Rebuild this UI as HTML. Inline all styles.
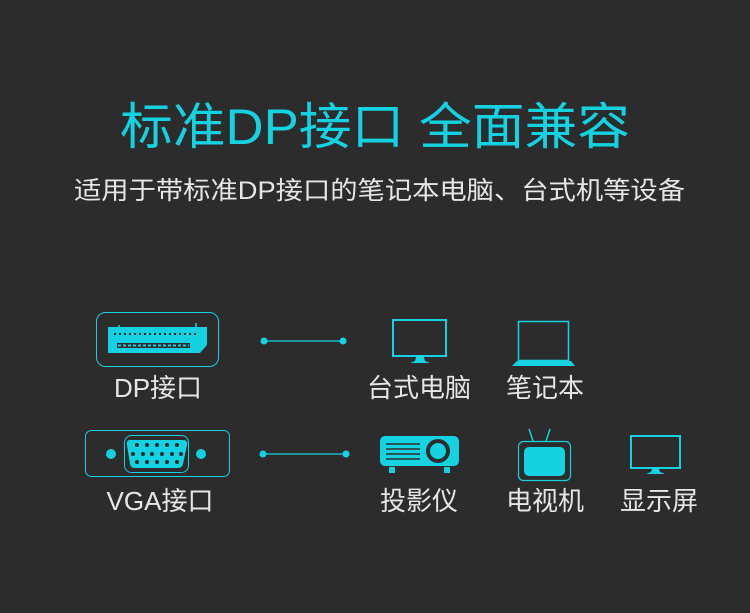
<!DOCTYPE html>
<html><head><meta charset="utf-8"><style>
html,body{margin:0;padding:0;background:#2c2c2c;}
svg{display:block;}
text{font-family:"Liberation Sans","Noto Sans CJK SC",sans-serif;}
</style></head><body>
<svg width="750" height="613" viewBox="0 0 750 613" xmlns="http://www.w3.org/2000/svg">
<rect width="750" height="613" fill="#2c2c2c"/>
<text x="120" y="144" font-size="50" fill="#14d2e2" textLength="510" lengthAdjust="spacingAndGlyphs">标准DP接口 全面兼容</text>
<text x="74" y="199" font-size="25" fill="#e6e6e6" textLength="611" lengthAdjust="spacingAndGlyphs">适用于带标准DP接口的笔记本电脑、台式机等设备</text>

<!-- DP icon -->
<rect x="96.5" y="312.5" width="122" height="54" rx="9" fill="none" stroke="#14d2e2" stroke-width="1"/>
<path d="M108 327 L207 327 L207 345 L200 353 L108 353 Z" fill="#14d2e2"/>
<line x1="119" y1="325" x2="119" y2="327" stroke="#14d2e2" stroke-width="1.5"/>
<line x1="196" y1="323" x2="196" y2="327" stroke="#14d2e2" stroke-width="1.5"/>
<line x1="114" y1="334" x2="199" y2="334" stroke="#2c2c2c" stroke-width="2" stroke-dasharray="2 3"/>
<rect x="117" y="343" width="73" height="5" fill="#2c2c2c"/>
<line x1="118" y1="345.5" x2="189" y2="345.5" stroke="#14d2e2" stroke-width="2" stroke-dasharray="3 2"/>
<text x="158" y="397" font-size="26" fill="#e6e6e6" text-anchor="middle">DP接口</text>

<!-- VGA icon -->
<rect x="85.5" y="430.5" width="144" height="46" rx="6" fill="none" stroke="#14d2e2" stroke-width="1"/>
<rect x="124.5" y="435.5" width="64" height="37" rx="7" fill="none" stroke="#14d2e2" stroke-width="1"/>
<path d="M130 440 L183 440 Q188 440 187 445 L183 464 Q182 468 178 468 L135 468 Q131 468 130 464 L127 445 Q126 440 130 440 Z" fill="#14d2e2"/>
<g fill="#2c2c2c">
<circle cx="137" cy="445" r="2"/><circle cx="147" cy="445" r="2"/><circle cx="157" cy="445" r="2"/><circle cx="167" cy="445" r="2"/><circle cx="177" cy="445" r="2"/>
<circle cx="133" cy="454" r="2"/><circle cx="143" cy="454" r="2"/><circle cx="152" cy="454" r="2"/><circle cx="162" cy="454" r="2"/><circle cx="172" cy="454" r="2"/><circle cx="181" cy="454" r="2"/>
<circle cx="137" cy="462" r="2"/><circle cx="147" cy="462" r="2"/><circle cx="157" cy="462" r="2"/><circle cx="167" cy="462" r="2"/><circle cx="177" cy="462" r="2"/>
</g>
<circle cx="111" cy="454" r="5" fill="#14d2e2"/>
<circle cx="201" cy="454" r="5" fill="#14d2e2"/>
<text x="160" y="510" font-size="26" fill="#e6e6e6" text-anchor="middle">VGA接口</text>

<!-- connectors -->
<line x1="264" y1="341" x2="343" y2="341" stroke="#14d2e2" stroke-width="1.2"/>
<circle cx="264" cy="341" r="3.5" fill="#14d2e2"/><circle cx="343" cy="341" r="3.5" fill="#14d2e2"/>
<line x1="263" y1="454" x2="346" y2="454" stroke="#14d2e2" stroke-width="1.2"/>
<circle cx="263" cy="454" r="3.5" fill="#14d2e2"/><circle cx="346" cy="454" r="3.5" fill="#14d2e2"/>

<!-- monitor -->
<rect x="393" y="320" width="53" height="36" fill="none" stroke="#14d2e2" stroke-width="2"/>
<path d="M416 357 L424 357 L425 361 L430 363 L410 363 L415 361 Z" fill="#14d2e2"/>
<text x="419" y="397" font-size="26" fill="#e6e6e6" text-anchor="middle">台式电脑</text>

<!-- laptop -->
<rect x="518.5" y="321.5" width="50" height="39" fill="none" stroke="#14d2e2" stroke-width="1.5"/>
<path d="M517 361 L571 361 L575 366 L512 366 Z" fill="#14d2e2"/>
<text x="545" y="397" font-size="26" fill="#e6e6e6" text-anchor="middle">笔记本</text>

<!-- projector -->
<rect x="380" y="436" width="79" height="30" rx="5" fill="#14d2e2"/>
<rect x="389" y="467" width="6" height="6" fill="#14d2e2"/>
<rect x="444" y="467" width="6" height="6" fill="#14d2e2"/>
<g stroke="#2c2c2c" stroke-width="1.5">
<line x1="386" y1="444" x2="420" y2="444"/><line x1="386" y1="449" x2="420" y2="449"/><line x1="386" y1="454" x2="420" y2="454"/><line x1="386" y1="459" x2="420" y2="459"/>
</g>
<circle cx="438" cy="451" r="12" fill="#2c2c2c"/>
<circle cx="438" cy="451" r="8" fill="#14d2e2"/>
<text x="419" y="510" font-size="26" fill="#e6e6e6" text-anchor="middle">投影仪</text>

<!-- tv -->
<rect x="518.5" y="441.5" width="52" height="39" rx="5" fill="none" stroke="#14d2e2" stroke-width="1.2"/>
<rect x="524" y="447" width="41" height="29" rx="5" fill="#14d2e2"/>
<line x1="533" y1="441" x2="529" y2="429" stroke="#14d2e2" stroke-width="1.5"/>
<line x1="546" y1="441" x2="550" y2="429" stroke="#14d2e2" stroke-width="1.5"/>
<text x="545" y="510" font-size="26" fill="#e6e6e6" text-anchor="middle">电视机</text>

<!-- display -->
<rect x="631" y="436" width="49" height="32" fill="none" stroke="#14d2e2" stroke-width="2"/>
<path d="M652 469 L659 469 L660 472 L665 474 L646 474 L651 472 Z" fill="#14d2e2"/>
<text x="659" y="510" font-size="26" fill="#e6e6e6" text-anchor="middle">显示屏</text>
</svg>
</body></html>
